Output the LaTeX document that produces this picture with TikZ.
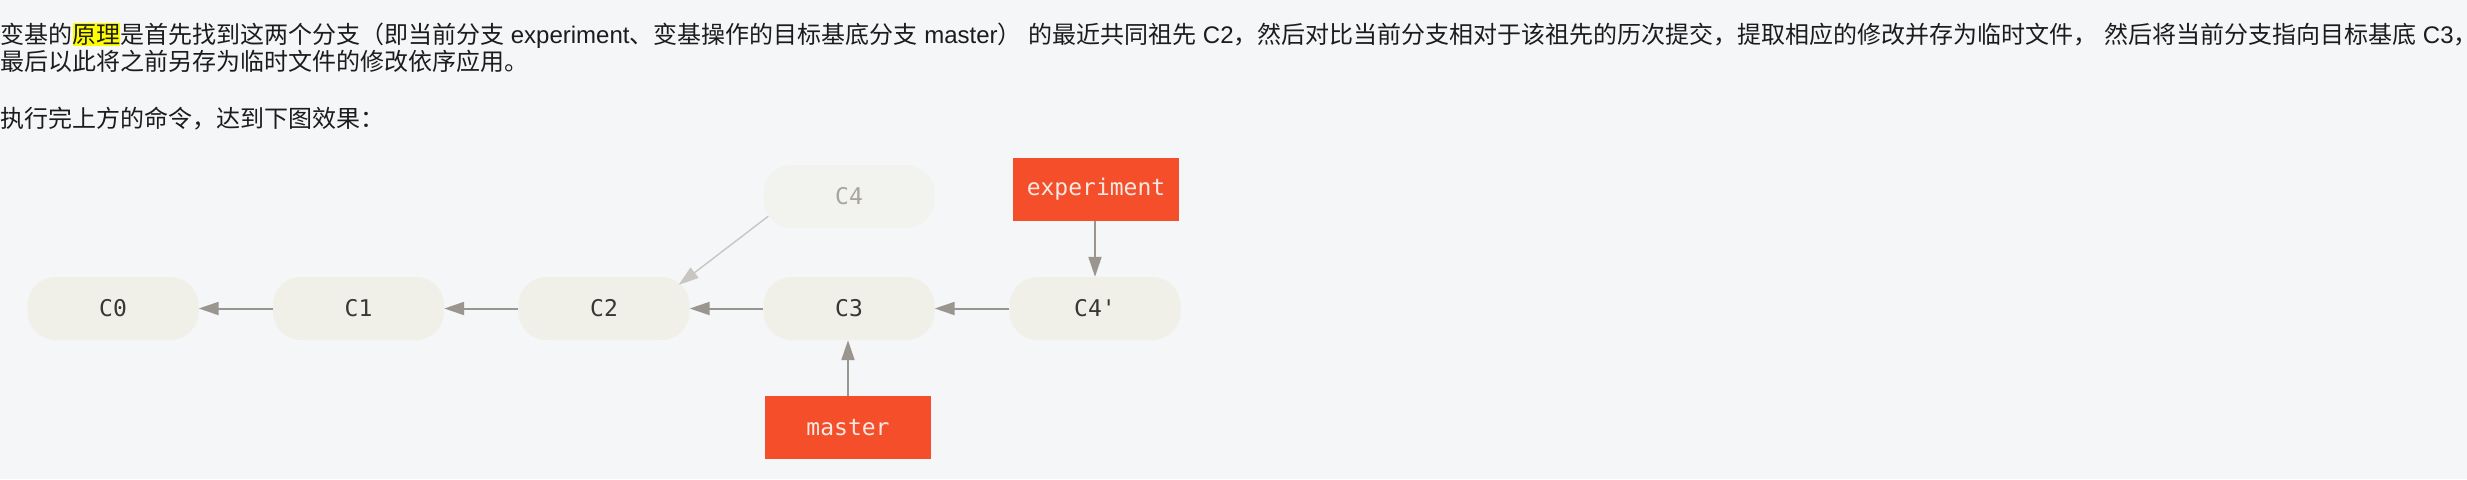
\documentclass[tikz,border=0pt]{standalone}
\usepackage{fontspec}
\setmainfont{Liberation Sans}
\newfontfamily\cjk{Noto Sans CJK SC}
\newfontfamily\monofont{DejaVu Sans Mono}
\usetikzlibrary{arrows.meta}
\definecolor{bg}{HTML}{F5F6F8}
\definecolor{pill}{HTML}{F0EFE8}
\definecolor{pillfaint}{HTML}{F2F2EE}
\definecolor{gitred}{HTML}{F44F2A}
\definecolor{redtext}{HTML}{F6E8E2}
\definecolor{arrowgray}{HTML}{9A958F}
\definecolor{faintgray}{HTML}{C8C6C2}
\definecolor{labeltext}{HTML}{3A3631}
\definecolor{fainttext}{HTML}{A8A49F}
\definecolor{bodytext}{HTML}{1C1C1C}
\definecolor{hl}{HTML}{FFFF00}
\tikzset{
  commit/.style={rectangle, rounded corners=28pt, fill=pill, minimum width=171pt, minimum height=63pt,
    inner sep=0pt, text=labeltext, font=\monofont\fontsize{23pt}{23pt}\selectfont},
  faintcommit/.style={commit, fill=pillfaint, text=fainttext},
  branch/.style={rectangle, fill=gitred, minimum width=166pt, minimum height=63pt, inner sep=0pt,
    text=redtext, font=\monofont\fontsize{23pt}{23pt}\selectfont},
  link/.style={draw=arrowgray, line width=2pt, -{Triangle[length=20pt,width=13pt]}},
  faintlink/.style={draw=faintgray, line width=1.4pt, -{Triangle[length=20pt,width=13pt]}},
  para/.style={anchor=base west, inner sep=0pt, text=bodytext, font=\fontsize{24pt}{24pt}\selectfont}
}
\begin{document}
\begin{tikzpicture}[x=1pt,y=-1pt]
\useasboundingbox (0,0) rectangle (2467,479);
\fill[bg] (0,0) rectangle (2467,479);
% highlight behind the word
\fill[hl] (72.5,22.5) rectangle (119.5,46);
\node[para] (line1) at (0,43) {{\cjk 变基的原理是首先找到这两个分支（即当前分支} experiment{\cjk 、变基操作的目标基底分支} master{\cjk ）} {\cjk 的最近共同祖先} C2{\cjk ，然后对比当前分支相对于该祖先的历次提交，提取相应的修改并存为临时文件，} {\cjk 然后将当前分支指向目标基底} C3\makebox[0.35em][l]{\cjk ，}};
\node[para] (line2) at (0,70.5) {{\cjk 最后以此将之前另存为临时文件的修改依序应用。}};
\node[para] (line3) at (0,127.5) {{\cjk 执行完上方的命令，达到下图效果：}};

\node[commit] (C0) at (113,308.5) {C0};
\node[commit] (C1) at (358.5,308.5) {C1};
\node[commit] (C2) at (604,308.5) {C2};
\node[commit] (C3) at (849,308.5) {C3};
\node[commit] (C4p) at (1095,308.5) {C4'};
\node[faintcommit] (C4) at (849,196.5) {C4};
\node[branch] (experiment) at (1096,189) {experiment};
\node[branch] (master) at (848,427.5) {master};

\draw[link] (C1) -- (C0);
\draw[link] (C2) -- (C1);
\draw[link] (C3) -- (C2);
\draw[link] (C4p) -- (C3);
\draw[faintlink] ([xshift=5pt,yshift=12pt]C4.south west) -- ([xshift=-11pt,yshift=-8pt]C2.north east);
\draw[link] (experiment.south -| C4p) -- (C4p.north);
\draw[link] (master.north) -- (master.north |- C3.south);
\end{tikzpicture}
\end{document}
